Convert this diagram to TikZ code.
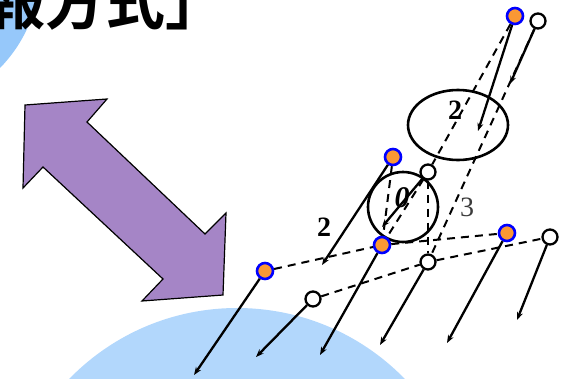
\documentclass[tikz,border=0pt]{standalone}
\usepackage{fontspec}
\setmainfont{Liberation Serif}
\newfontfamily\cjk{Noto Sans CJK JP Bold}
\usepackage{xcolor}
\definecolor{earthblue}{RGB}{150,200,250}
\definecolor{earthlite}{RGB}{178,215,252}
\definecolor{arrowpurple}{RGB}{165,133,198}
\definecolor{dotorange}{RGB}{250,152,52}
\definecolor{dotrim}{RGB}{0,0,255}
\definecolor{labelgray}{RGB}{60,60,60}
\usepackage{tikz}
\usetikzlibrary{arrows.meta, shapes.geometric}

\pgfdeclareradialshading{earthglow}{\pgfpoint{0bp}{0bp}}%
  {color(0bp)=(earthlite); color(36bp)=(earthlite); color(50bp)=(earthblue)}

\begin{document}
\begin{tikzpicture}[x=1pt, y=-1pt, >={Stealth[length=8pt, width=6pt]},
  odot/.style={circle, draw=dotrim, line width=2.6pt, fill=dotorange,
               minimum size=16pt, inner sep=0pt},
  wdot/.style={circle, draw, line width=2.3pt, fill=white,
               minimum size=15pt, inner sep=0pt},
  ray/.style={->, line width=2.3pt},
  proj/.style={line width=2pt, dash pattern=on 8pt off 6pt},
  zone/.style={draw, line width=2.6pt, inner sep=0pt},
  num/.style={font=\bfseries\fontsize{28}{28}\selectfont}]

  \useasboundingbox (0,0) rectangle (565,378);

  % earth and the blob behind the title
  \shade[shading=earthglow] (237,542) circle (234);
  \fill[earthblue] (-100,-30) circle (140);

  \node[anchor=base west, inner sep=0pt,
        font=\cjk\fontsize{60}{62}\selectfont] (title)
        at (-15,24) {報方式」};

  % double arrow
  \draw[fill=arrowpurple, line width=1.2pt]
    (25,105) -- (107,99) -- (87,122) -- (205,234) -- (226,213)
    -- (223,295) -- (142,301) -- (163,279) -- (43,167) -- (23,188) -- cycle;

  % zones
  \node[zone, ellipse, minimum width=100pt, minimum height=70pt] (zone2) at (458,125) {};
  \node[zone, circle, minimum size=70pt] (zone0) at (403,207) {};

  \node[num] (lab2a) at (455,110) {2};
  \node[num] (lab2b) at (324,227) {2};
  \node[font=\bfseries\itshape\fontsize{30}{30}\selectfont] (lab0) at (402,198) {0};
  \node[font=\fontsize{28}{28}\selectfont, text=labelgray] (lab3) at (467,207) {3};

  % positions
  \node[odot] (o1) at (515,16) {};
  \node[wdot] (w1) at (538,21) {};
  \node[odot] (o2) at (393,157) {};
  \node[wdot] (w2) at (428,172) {};
  \node[odot] (o3) at (382,245) {};
  \node[wdot] (w3) at (428,262) {};
  \node[odot] (o4) at (507,233) {};
  \node[wdot] (w4) at (550,237) {};
  \node[odot] (o5) at (265,271) {};
  \node[wdot] (w5) at (313,299) {};

  \coordinate (o1e) at (478,131);
  \coordinate (w1e) at (510,84);
  \coordinate (o2e) at (322,265);
  \coordinate (w2e) at (382,227);
  \coordinate (o3e) at (320,355);
  \coordinate (w3e) at (380,345);
  \coordinate (o4e) at (447,343);
  \coordinate (w4e) at (517,320);
  \coordinate (o5e) at (194,375);
  \coordinate (w5e) at (256,357);

  % dashed links
  \draw[proj] (o5) -- (o3) -- (o4);
  \draw[proj] (w5) -- (w3) -- (w4);
  \draw[proj] (o1) -- (w2) -- (o3);
  \draw[proj] (w1) -- (w3);
  \draw[proj] (o2) -- (o3);
  \draw[proj] (w2) -- (w3);

  % rays
  \foreach \p in {o1,w1,o2,w2,o3,w3,o4,w4,o5,w5}
    \draw[ray] (\p) -- (\p e);

\end{tikzpicture}
\end{document}
